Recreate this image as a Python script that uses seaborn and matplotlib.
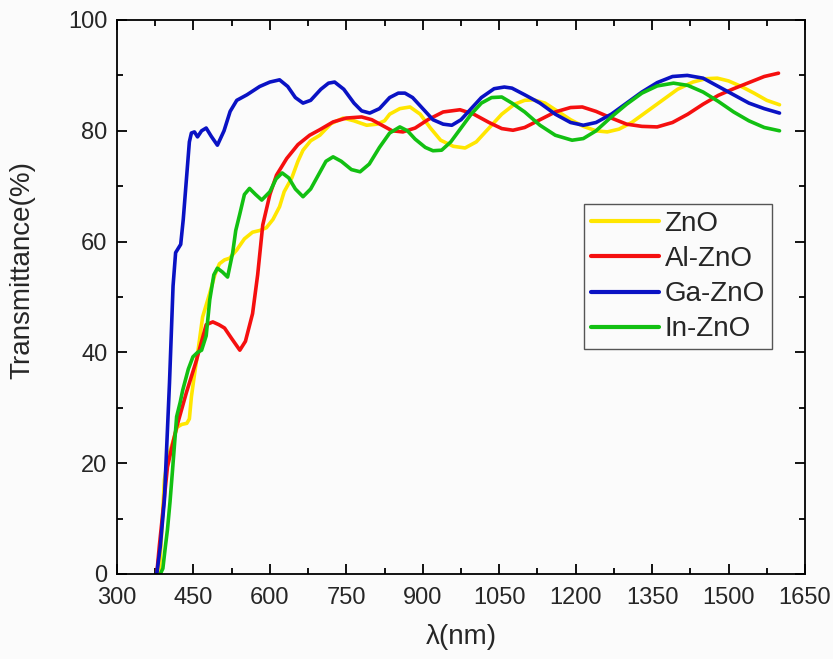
import numpy as np
import pandas as pd
import matplotlib
matplotlib.use("Agg")
import matplotlib.pyplot as plt
import seaborn as sns
from matplotlib.ticker import MultipleLocator

# ---------------- data ----------------
series_names = ["ZnO", "Al-ZnO", "Ga-ZnO", "In-ZnO"]
series_colors = ["#FFE600", "#F50F0F", "#0A12C4", "#12C012"]

zno_x = [383, 388, 393, 400, 410, 418, 427, 437, 442, 446, 452, 460, 468, 482, 492,
         501, 511, 521, 535, 550, 566, 580, 593, 606, 619, 628, 643, 655, 665, 680,
         698, 720, 744, 765, 790, 810, 825, 835, 855, 875, 895, 915, 935, 960, 983,
         1005, 1030, 1055, 1080, 1100, 1117, 1140, 1165, 1190, 1215, 1240, 1262, 1285,
         1310, 1340, 1370, 1400, 1430, 1455, 1478, 1500, 1525, 1550, 1575, 1600]
zno_y = [0, 8, 17, 21, 24, 26.5, 27, 27.2, 28, 32, 36, 41, 46.4, 50.7, 54,
         56, 56.7, 57, 58.5, 60.5, 61.7, 62, 62.5, 64, 66.3, 69, 71.5, 74.5, 76.5, 78.2,
         79.2, 81.3, 82.3, 81.8, 81, 81.2, 81.8, 83, 84, 84.3, 83, 80.5, 78.3, 77.2, 76.9,
         78, 80.5, 83, 84.8, 85.5, 85.6, 85, 83.5, 82, 80.8, 80, 79.8, 80.3,
         81.5, 83.5, 85.5, 87.5, 88.8, 89.4, 89.5, 89, 88, 86.8, 85.5, 84.7]

al_x = [378, 383, 389, 399, 408, 417, 436, 456, 466, 475, 488, 500, 511, 525, 541,
        552, 566, 576, 586, 600, 613, 633, 655, 678, 698, 724, 750, 780, 800, 820,
        840, 861, 885, 910, 940, 973, 1000, 1030, 1055, 1077, 1100, 1130, 1160, 1190,
        1213, 1240, 1270, 1300, 1330, 1360, 1390, 1420, 1450, 1480, 1510, 1540, 1570, 1598]
al_y = [0, 5, 10.3, 19.3, 23, 26.5, 32.7, 38.6, 42, 45, 45.5, 45, 44.4, 42.5, 40.4,
        42, 47, 54, 63, 68.5, 72, 75, 77.5, 79.2, 80.2, 81.6, 82.3, 82.5, 82, 81,
        80, 79.8, 80.5, 82, 83.4, 83.8, 83, 81.5, 80.4, 80.1, 80.6, 82, 83.4, 84.2,
        84.3, 83.5, 82.3, 81.2, 80.8, 80.7, 81.5, 83, 84.8, 86.4, 87.6, 88.7, 89.8, 90.4]

ga_x = [378, 385, 393, 403, 410, 415, 425, 430, 436, 442, 446, 452, 458, 466, 475,
        485, 497, 510, 522, 535, 555, 580, 600, 619, 635, 650, 665, 680, 700, 715,
        727, 745, 765, 780, 796, 815, 835, 852, 865, 880, 900, 920, 940, 957, 975,
        995, 1015, 1040, 1060, 1075, 1100, 1130, 1160, 1190, 1215, 1240, 1270, 1300,
        1330, 1360, 1390, 1419, 1450, 1480, 1510, 1540, 1570, 1600]
ga_y = [0, 5, 13.4, 34.5, 52, 58, 59.5, 64, 71, 78, 79.6, 79.8, 78.9, 80, 80.5,
        79, 77.4, 80, 83.5, 85.5, 86.5, 88, 88.8, 89.2, 88, 86, 85, 85.5, 87.5, 88.6,
        88.8, 87.5, 85, 83.6, 83.2, 84, 86, 86.8, 86.8, 86, 84, 82, 81.2, 81, 82,
        84, 86, 87.6, 87.9, 87.7, 86.5, 85, 83, 81.5, 81, 81.5, 83, 85,
        87, 88.7, 89.8, 90, 89.5, 88, 86.5, 85, 84, 83.2]

in_x = [385, 390, 395, 399, 404, 409, 417, 424, 429, 440, 449, 458, 466, 475, 482,
        490, 497, 507, 517, 527, 533, 541, 550, 560, 572, 584, 600, 612, 624, 637,
        650, 665, 680, 695, 710, 724, 740, 760, 777, 795, 815, 835, 855, 870, 885,
        905, 920, 937, 955, 975, 995, 1015, 1035, 1055, 1075, 1100, 1130, 1160, 1193,
        1215, 1240, 1270, 1300, 1330, 1360, 1392, 1420, 1450, 1480, 1510, 1540, 1570, 1600]
in_y = [0, 1, 5, 8, 13, 18.8, 28.4, 31, 33.2, 37, 39.2, 40, 40.4, 43, 49.5,
        54, 55.2, 54.5, 53.6, 58, 62, 65, 68.5, 69.6, 68.5, 67.5, 69, 71.3, 72.4, 71.5,
        69.5, 68.1, 69.5, 72, 74.5, 75.3, 74.5, 73, 72.6, 74, 77, 79.6, 80.7, 80, 78.5,
        77, 76.4, 76.5, 78, 80.5, 83, 85, 86, 86.1, 85, 83.4, 81, 79.2, 78.3,
        78.6, 80, 82.5, 84.8, 86.8, 88.1, 88.6, 88.2, 87, 85.3, 83.4, 81.8, 80.6, 80]

x_ticks = [300, 450, 600, 750, 900, 1050, 1200, 1350, 1500, 1650]
y_ticks = [0, 20, 40, 60, 80, 100]

frames = []
for name, xs, ys in zip(series_names, [zno_x, al_x, ga_x, in_x], [zno_y, al_y, ga_y, in_y]):
    frames.append(pd.DataFrame({"wavelength": xs, "T": ys, "sample": name}))
df = pd.concat(frames, ignore_index=True)

# ---------------- style ----------------
sns.set_style("ticks")
plt.rcParams["font.family"] = ["Liberation Sans", "DejaVu Sans"]

bg = "#fbfbfb"
fig = plt.figure(figsize=(8.33, 6.59), dpi=100, facecolor=bg)
ax = fig.add_axes([117 / 833, 1 - 574 / 659, 688 / 833, 554 / 659])
ax.set_facecolor(bg)

sns.lineplot(data=df, x="wavelength", y="T", hue="sample", hue_order=series_names,
             palette=dict(zip(series_names, series_colors)), linewidth=2.6,
             estimator=None, sort=False, ax=ax)

ax.set_xlim(300, 1650)
ax.set_ylim(0, 100)
ax.set_xticks(x_ticks)
ax.set_yticks(y_ticks)
ax.set_xticklabels([str(v) for v in x_ticks])
ax.set_yticklabels([str(v) for v in y_ticks])
ax.xaxis.set_minor_locator(MultipleLocator(75))
ax.yaxis.set_minor_locator(MultipleLocator(10))
ax.tick_params(which="both", direction="in", top=True, right=True, width=1.3, color="black")
ax.tick_params(which="major", length=7.5, labelsize=17)
ax.tick_params(axis="x", which="major", pad=9)
ax.tick_params(axis="y", which="major", pad=7)
ax.tick_params(which="minor", length=4)
for s in ax.spines.values():
    s.set_linewidth(1.3)
    s.set_color("black")

ax.set_xlabel("λ(nm)", fontsize=20, labelpad=11)
ax.set_ylabel("Transmittance(%)", fontsize=20)
ax.yaxis.set_label_coords(-0.118, 0.548)

leg = ax.legend(loc="upper left", bbox_to_anchor=((584 - 117) / 688, (574 - 204) / 554),
                borderaxespad=0, fontsize=20, frameon=True, fancybox=False,
                handlelength=2.45, handletextpad=0.2, labelspacing=0.33,
                borderpad=0.25, edgecolor="#555555", facecolor=bg, framealpha=1)
leg.get_frame().set_linewidth(1.0)
for line in leg.get_lines():
    line.set_linewidth(3)

fig.savefig("out.png", dpi=100, facecolor=bg)
